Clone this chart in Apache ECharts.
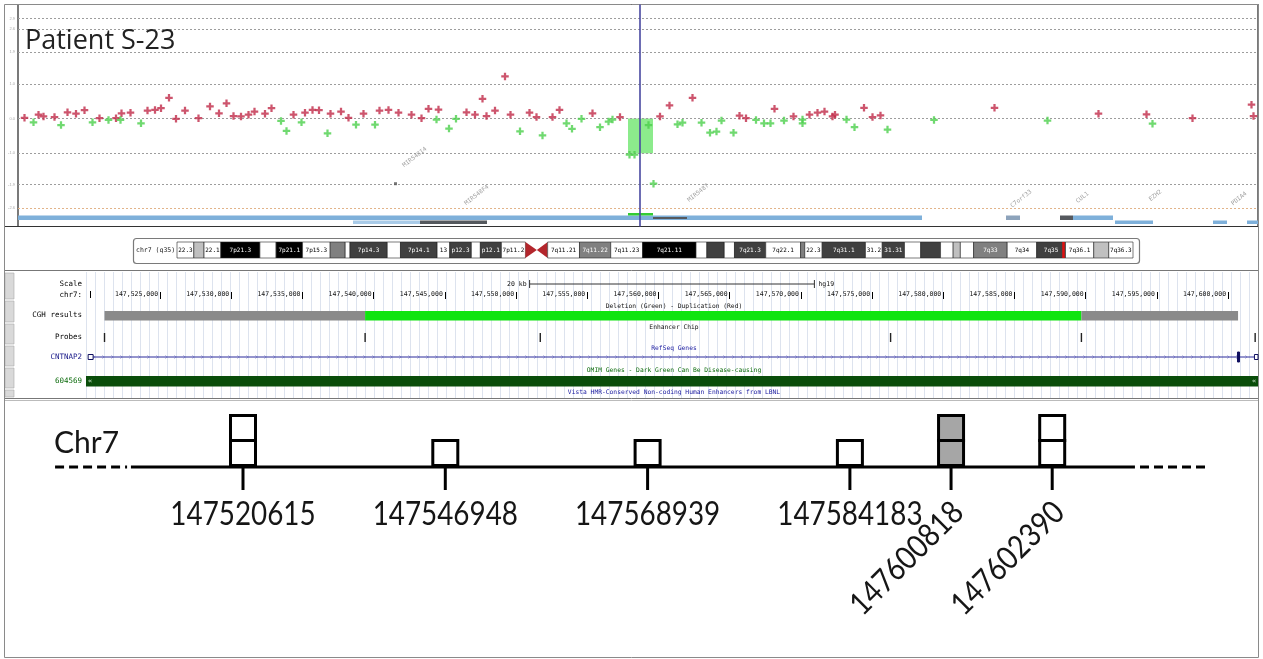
<!DOCTYPE html>
<html><head><meta charset="utf-8">
<script src="https://cdn.jsdelivr.net/npm/echarts@6/dist/echarts.min.js"></script>
<style>html,body{margin:0;padding:0;background:#fff}#c{width:1263px;height:659px}</style>
</head><body><div id="c"></div>
<script>
// ================= DATA =================
// Array-CGH probes on chr7 (position in kb, log2 ratio)
const gainProbes = [[146313,0.02],[146341,0.11],[146351,0.06],[146373,0.04],[146399,0.18],[146416,0.14],[146433,0.24],[146463,0.01],[146496,0.01],[146507,0.15],[146525,0.17],[146559,0.23],[146574,0.25],[146586,0.30],[146602,0.60],[146616,-0.01],[146634,0.23],[146661,0.01],[146684,0.35],[146702,0.15],[146717,0.44],[146731,0.07],[146746,0.06],[146761,0.11],[146773,0.20],[146794,0.14],[146807,0.30],[146851,0.11],[146874,0.17],[146889,0.25],[146902,0.24],[146925,0.14],[146946,0.20],[146961,0.02],[146991,0.14],[147023,0.23],[147041,0.25],[147061,0.17],[147087,0.11],[147107,0.01],[147121,0.28],[147141,0.26],[147197,0.18],[147214,0.11],[147229,0.57],[147237,0.07],[147254,0.23],[147274,1.22],[147285,0.11],[147323,0.17],[147337,0.04],[147369,0.04],[147383,0.25],[147449,0.15],[147504,0.04],[147584,0.06],[147603,0.38],[147649,0.60],[147743,0.08],[147756,0.01],[147813,0.28],[147851,0.06],[147883,0.11],[147899,0.17],[147913,0.20],[147929,0.06],[147934,0.11],[147992,0.31],[148009,0.04],[148025,0.09],[148253,0.31],[148461,0.14],[148557,0.12],[148649,0.01],[148767,0.40],[148771,0.07]];
const lossProbes = [[146331,-0.11],[146386,-0.19],[146449,-0.11],[146481,-0.04],[146505,-0.04],[146546,-0.14],[146826,-0.07],[146837,-0.36],[146867,-0.11],[146919,-0.43],[146976,-0.18],[147014,-0.18],[147137,-0.03],[147162,-0.29],[147176,-0.01],[147304,-0.37],[147349,-0.49],[147397,-0.14],[147408,-0.30],[147427,-0.01],[147464,-0.25],[147481,-0.09],[147489,-0.03],[147523,-1.05],[147533,-1.05],[147561,-0.19],[147571,-1.89],[147619,-0.17],[147629,-0.12],[147667,-0.12],[147684,-0.41],[147697,-0.38],[147707,-0.06],[147731,-0.41],[147776,-0.04],[147792,-0.14],[147805,-0.14],[147832,-0.06],[147869,-0.03],[147869,-0.14],[147957,-0.03],[147973,-0.25],[148039,-0.32],[148132,-0.04],[148359,-0.06],[148569,-0.15]];
const flaggedProbes = [[147055,-1.89]];
const deletionCall = [147520, 147570, -1.01];        // start kb, end kb, segment log2
const log2Levels = [2.9, 2.6, 1.92, 1, 0, -1, -1.92, -2.6];
const regionMarkerKb = 147544;
// genes under the CGH plot: [start kb, end kb, lane, kind]
const cghGenes = [[146300,148108,0,0],[146970,147104,1,3],[147104,147238,1,1],[147520,147570,2,2],[147570,147638,3,1],[148276,148304,0,4],[148384,148410,0,1],[148410,148490,0,0],[148494,148570,1,0],[148690,148718,1,0],[148758,148780,1,0]];
const cghGeneLabels = [[147120,-0.93,'MIR548I4'],[147244,-2.03,'MIR548F4'],[147684,-2.0,'MIR548T'],[148330,-2.17,'C7orf33'],[148444,-2.23,'CUL1'],[148590,-2.17,'EZH2'],[148760,-2.23,'PDIA4']];
// chr7 cytobands (hg19, Mb)
const chr7Bands = [['p22.3',0,2.8,'gneg'],['p22.2',2.8,4.5,'gpos25'],['p22.1',4.5,7.3,'gneg'],['p21.3',7.3,13.8,'gpos100'],['p21.2',13.8,16.5,'gneg'],['p21.1',16.5,20.9,'gpos100'],['p15.3',20.9,25.5,'gneg'],['p15.2',25.5,28.0,'gpos50'],['p15.1',28.0,28.8,'gneg'],['p14.3',28.8,35.0,'gpos75'],['p14.2',35.0,37.2,'gneg'],['p14.1',37.2,43.3,'gpos75'],['p13',43.3,45.4,'gneg'],['p12.3',45.4,49.0,'gpos75'],['p12.2',49.0,50.5,'gneg'],['p12.1',50.5,54.0,'gpos75'],['p11.2',54.0,58.0,'gneg'],['p11.1',58.0,59.9,'acen'],['q11.1',59.9,61.7,'acen'],['q11.21',61.7,67.0,'gneg'],['q11.22',67.0,72.2,'gpos50'],['q11.23',72.2,77.5,'gneg'],['q21.11',77.5,86.4,'gpos100'],['q21.12',86.4,88.2,'gneg'],['q21.13',88.2,91.1,'gpos75'],['q21.2',91.1,92.8,'gneg'],['q21.3',92.8,98.0,'gpos75'],['q22.1',98.0,103.8,'gneg'],['q22.2',103.8,104.5,'gpos50'],['q22.3',104.5,107.4,'gneg'],['q31.1',107.4,114.6,'gpos75'],['q31.2',114.6,117.4,'gneg'],['q31.31',117.4,121.1,'gpos75'],['q31.32',121.1,123.8,'gneg'],['q31.33',123.8,127.1,'gpos75'],['q32.1',127.1,129.2,'gneg'],['q32.2',129.2,130.4,'gpos25'],['q32.3',130.4,132.6,'gneg'],['q33',132.6,138.2,'gpos50'],['q34',138.2,143.1,'gneg'],['q35',143.1,147.9,'gpos75'],['q36.1',147.9,152.6,'gneg'],['q36.2',152.6,155.1,'gpos25'],['q36.3',155.1,159.138663,'gneg']];
const chr7LengthMb = 159.138663;
const ideogramFocusMb = 147.56;
// UCSC browser view (kb)
const ucscView = [147519.8, 147602.1];
const rulerTicksKb = [147525,147530,147535,147540,147545,147550,147555,147560,147565,147570,147575,147580,147585,147590,147595,147600];
const cghResults = [[147521.1,147539.4,0],[147539.4,147589.7,1],[147589.7,147600.7,0]]; // 0 normal, 1 deletion
const ucscProbesKb = [147521.1,147539.4,147551.7,147576.3,147589.7,147601.9];
const cntnap2Exons = [[147519.95,147520.3,0],[147600.66,147600.8,1],[147601.85,147602.1,0]];
const omimSpan = [147519.8, 147602.1];
const scaleBarKb = 20;
// schematic of tested probes
const probeLabels = ['147520615','147546948','147568939','147584183','147600818','147602390'];
const probeCopies = [2,1,1,1,2,2];
const probeAltered = [0,0,0,0,1,0];

// ================= LAYOUT / STYLE =================
const schematicSlots = [0,1,2,3,3.5,4];
const labelRotated = [0,0,0,0,1,1];
const chrLine = {solid:[-0.554,4.409], dashL:[-0.929,-0.573], dashR:[4.434,4.775]};
const MONO = "'DejaVu Sans Mono', monospace";
const HUMAN = "Lato, 'Open Sans', sans-serif";
const geneColors = ['#7eb0da','#55595e','#33cc33','#a9cbe8','#8da3bb'];
const geneLanes = [{top:11,h:4.5},{top:6,h:3.5},{top:13.5,h:2.5},{top:9.5,h:2}];
const stainFill = {gneg:'#ffffff',gpos25:'#c0c0c0',gpos50:'#808080',gpos75:'#404040',gpos100:'#000000'};
const stainText = {gneg:'#000',gpos25:'#000',gpos50:'#fff',gpos75:'#fff',gpos100:'#fff'};
const plusPath = 'path://M1.75,0H3.25V1.75H5V3.25H3.25V5H1.75V3.25H0V1.75H1.75Z';

const chart = echarts.init(document.getElementById('c'), null, {renderer:'canvas', width:1263, height:659});

function clipX(cs, a, b){ const x0=Math.max(a,cs.x), x1=Math.min(b,cs.x+cs.width); return [x0, Math.max(0,x1-x0)]; }

const series = [];
// top panel: gridlines, deletion segment, region marker
series.push({type:'scatter', xAxisIndex:0, yAxisIndex:0, data:[], silent:true,
  markLine:{silent:true, symbol:'none', label:{show:false}, animation:false,
    data: log2Levels.map(v=>({yAxis:v, lineStyle:{type:[2,2], color: v===-2.6?'#e2b48a':'#9d9d9d', width:1}}))
      .concat([{xAxis:regionMarkerKb, lineStyle:{type:'solid', color:'#4848a0', width:1.6}}])},
  markArea:{silent:true, itemStyle:{color:'rgba(120,232,120,0.85)'},
    data:[[{xAxis:deletionCall[0], yAxis:0},{xAxis:deletionCall[1], yAxis:deletionCall[2]}]]}
});
series.push({type:'scatter', xAxisIndex:0, yAxisIndex:0, data:gainProbes, symbol:plusPath, symbolSize:7.5, itemStyle:{color:'#c02a48'}, z:5});
series.push({type:'scatter', xAxisIndex:0, yAxisIndex:0, data:lossProbes, symbol:plusPath, symbolSize:7.5, itemStyle:{color:'#4ccf4c'}, z:5});
series.push({type:'scatter', xAxisIndex:0, yAxisIndex:0, data:flaggedProbes, symbol:'rect', symbolSize:3, itemStyle:{color:'#555'}, z:5});
series.push({type:'custom', xAxisIndex:0, yAxisIndex:0, data:cghGenes, encode:{x:[0,1]}, z:4,
  renderItem:(params, api)=>{
    const cs=params.coordSys;
    const a=api.coord([api.value(0),0])[0], b=api.coord([api.value(1),0])[0];
    const [x,w]=clipX(cs,a,b); const ln=geneLanes[api.value(2)];
    return {type:'rect', shape:{x:x, y:cs.y+cs.height-ln.top, width:w, height:ln.h}, style:{fill:geneColors[api.value(3)]}};
  }});
series.push({type:'scatter', xAxisIndex:0, yAxisIndex:0, symbolSize:0, z:4,
  data: cghGeneLabels.map(g=>({value:[g[0],g[1]], name:g[2]})),
  label:{show:true, formatter:'{b}', position:[0,0], align:'right', verticalAlign:'bottom', rotate:38, fontSize:6, fontFamily:MONO, color:'#8a8a8a'}});

// ideogram
series.push({type:'custom', xAxisIndex:1, yAxisIndex:1, data:chr7Bands.map(b=>[b[1],b[2]]), encode:{x:[0,1]},
  renderItem:(params, api)=>{
    const b=chr7Bands[params.dataIndex]; const cs=params.coordSys;
    const x0=api.coord([api.value(0),0])[0], x1=api.coord([api.value(1),0])[0];
    const y0=cs.y, h=cs.height;
    if(b[3]==='acen'){
      const pts = b[0][0]==='p' ? [[x0,y0],[x1,y0+h/2],[x0,y0+h]] : [[x1,y0],[x0,y0+h/2],[x1,y0+h]];
      return {type:'polygon', shape:{points:pts}, style:{fill:'#b3262c'}};
    }
    const w=x1-x0, cw=3.6;
    const cands=['7'+b[0], b[0], b[0].slice(1)];
    let t=''; for(const c of cands){ if(c.length*cw+2<=w){t=c;break;} }
    const kids=[{type:'rect', shape:{x:x0,y:y0,width:w,height:h}, style:{fill:stainFill[b[3]], stroke:'#222', lineWidth:0.6}}];
    if(t) kids.push({type:'text', style:{text:t, x:(x0+x1)/2, y:y0+h/2, align:'center', verticalAlign:'middle', fill:stainText[b[3]], font:'6px '+MONO}});
    return {type:'group', children:kids};
  }});
series.push({type:'scatter', xAxisIndex:1, yAxisIndex:1, data:[], silent:true,
  markLine:{silent:true, symbol:'none', label:{show:false}, data:[{xAxis:ideogramFocusMb}], lineStyle:{color:'#e01010', width:2.5, type:'solid'}}});

// UCSC tracks
series.push({type:'custom', xAxisIndex:2, yAxisIndex:2, data:cghResults, encode:{x:[0,1]}, z:3,
  renderItem:(params, api)=>{
    const cs=params.coordSys;
    const a=api.coord([api.value(0),0])[0], b=api.coord([api.value(1),0])[0];
    return {type:'rect', shape:{x:a, y:cs.y+39, width:b-a, height:9.5}, style:{fill: api.value(2)?'#0fe40f':'#8a8a8a'}};
  }});
series.push({type:'custom', xAxisIndex:2, yAxisIndex:2, data:ucscProbesKb.map(v=>[v]), encode:{x:0}, z:3,
  renderItem:(params, api)=>{
    const cs=params.coordSys; const x=api.coord([api.value(0),0])[0];
    return {type:'line', shape:{x1:x,y1:cs.y+61,x2:x,y2:cs.y+70}, style:{stroke:'#222', lineWidth:1.4}};
  }});
series.push({type:'custom', xAxisIndex:2, yAxisIndex:2, data:[ucscView], encode:{x:[0,1]}, z:3,
  renderItem:(params, api)=>{
    const cs=params.coordSys; const y=cs.y+85;
    const a=api.coord([api.value(0),0])[0]+3, b=api.coord([api.value(1),0])[0]-2;
    const kids=[{type:'line', shape:{x1:a,y1:y,x2:b,y2:y}, style:{stroke:'#2a2a9a', lineWidth:1}}];
    for(let x=a+6;x<b-4;x+=9) kids.push({type:'polyline', shape:{points:[[x-1.5,y-1.5],[x,y],[x-1.5,y+1.5]]}, style:{stroke:'#6a6ac0', lineWidth:0.7, fill:null}});
    return {type:'group', children:kids};
  }});
series.push({type:'custom', xAxisIndex:2, yAxisIndex:2, data:cntnap2Exons, encode:{x:[0,1]}, z:4,
  renderItem:(params, api)=>{
    const cs=params.coordSys; const y=cs.y+85;
    const a=api.coord([api.value(0),0])[0], b=api.coord([api.value(1),0])[0];
    const tall=api.value(2);
    const h= tall?10:5;
    return {type:'rect', shape:{x:a, y:y-h/2, width:Math.max(1.5,b-a), height:h}, style:{fill: tall?'#101060':'#fff', stroke:'#101060', lineWidth:1}};
  }});
series.push({type:'custom', xAxisIndex:2, yAxisIndex:2, data:[omimSpan], encode:{x:[0,1]}, z:3,
  renderItem:(params, api)=>{
    const cs=params.coordSys;
    const a=api.coord([api.value(0),0])[0], b=api.coord([api.value(1),0])[0];
    return {type:'group', children:[
      {type:'rect', shape:{x:a, y:cs.y+104, width:b-a, height:10.5}, style:{fill:'#0a4d0a'}},
      {type:'text', style:{text:'«', x:a+2, y:cs.y+109.5, verticalAlign:'middle', fill:'#cfe8cf', font:'7px '+MONO}},
      {type:'text', style:{text:'«', x:b-6, y:cs.y+109.5, verticalAlign:'middle', fill:'#cfe8cf', font:'7px '+MONO}}]};
  }});
series.push({type:'custom', xAxisIndex:2, yAxisIndex:2, data:[[(ucscView[0]+ucscView[1])/2 - scaleBarKb/2, (ucscView[0]+ucscView[1])/2 + scaleBarKb/2]], encode:{x:[0,1]}, z:3,
  renderItem:(params, api)=>{
    const cs=params.coordSys; const y=cs.y+12;
    const a=api.coord([api.value(0),0])[0], b=api.coord([api.value(1),0])[0];
    return {type:'group', children:[
      {type:'line', shape:{x1:a,y1:y,x2:b,y2:y}, style:{stroke:'#333', lineWidth:1}},
      {type:'line', shape:{x1:a,y1:y-4,x2:a,y2:y+4}, style:{stroke:'#333', lineWidth:1}},
      {type:'line', shape:{x1:b,y1:y-4,x2:b,y2:y+4}, style:{stroke:'#333', lineWidth:1}},
      {type:'text', style:{text:scaleBarKb+' kb', x:a-3, y:y, align:'right', verticalAlign:'middle', fill:'#111', font:'6.5px '+MONO}},
      {type:'text', style:{text:'hg19', x:b+4, y:y, align:'left', verticalAlign:'middle', fill:'#111', font:'6.5px '+MONO}}]};
  }});

// schematic
const schemData = probeLabels.map((l,i)=>[schematicSlots[i], probeCopies[i], probeAltered[i], i]);
series.push({type:'line', xAxisIndex:5, yAxisIndex:4, data:[[chrLine.solid[0],0],[chrLine.solid[1],0]], symbol:'none', lineStyle:{color:'#000', width:3}, z:2});
series.push({type:'line', xAxisIndex:5, yAxisIndex:4, data:[[chrLine.dashL[0],0],[chrLine.dashL[1],0]], symbol:'none', lineStyle:{color:'#000', width:3, type:[9,5]}, z:2});
series.push({type:'line', xAxisIndex:5, yAxisIndex:4, data:[[chrLine.dashR[0],0],[chrLine.dashR[1],0]], symbol:'none', lineStyle:{color:'#000', width:3, type:[9,5]}, z:2});
series.push({type:'custom', xAxisIndex:5, yAxisIndex:4, data:schemData, encode:{x:0,y:-1}, z:3,
  renderItem:(params, api)=>{
    const p=api.coord([api.value(0),0]); const n=api.value(1), alt=api.value(2), idx=api.value(3); const s=25;
    const kids=[{type:'line', shape:{x1:p[0],y1:p[1],x2:p[0],y2:p[1]+23}, style:{stroke:'#000', lineWidth:3}}];
    for(let k=0;k<n;k++) kids.push({type:'rect', shape:{x:p[0]-s/2, y:p[1]-1.5-s*(k+1), width:s, height:s}, style:{fill: alt?'#a6a6a6':'#fff', stroke:'#000', lineWidth:3}});
    const txtStyle={text:probeLabels[idx], fill:'#161616', fontSize:32, fontFamily:HUMAN};
    if(labelRotated[idx]){
      kids.push({type:'text', x:p[0]+7, y:p[1]+40, rotation:Math.PI/4, scaleX:0.87, style:Object.assign({align:'right', verticalAlign:'middle'}, txtStyle)});
    } else {
      kids.push({type:'text', x:p[0], y:p[1]+48, scaleX:0.87, style:Object.assign({align:'center', verticalAlign:'middle'}, txtStyle)});
    }
    return {type:'group', children:kids};
  }});

const ucscLabels = [['Scale',284,'#000'],['chr7:',295,'#000'],['CGH results',315,'#000'],['Probes',337,'#000'],['CNTNAP2',357,'#1a1a8a'],['604569',381,'#0a6a0a']];
const ucscTitles = [['Deletion (Green) - Duplication (Red)',306,'#111'],['Enhancer Chip',327,'#111'],['RefSeq Genes',348,'#1a1aa0'],['OMIM Genes - Dark Green Can Be Disease-causing',370,'#0a6a0a'],['Vista HMR-Conserved Non-coding Human Enhancers from LBNL',392,'#1a1aa0']];
const gutter = [[273,299],[301,322],[324,344],[346,366],[368,388],[390,397]];

const graphic = [
  {type:'rect', shape:{x:4.5,y:4.5,width:1254,height:653}, style:{fill:null, stroke:'#8a8a8a', lineWidth:1}, z:1},
  {type:'line', shape:{x1:4.5,y1:226.5,x2:1258.5,y2:226.5}, style:{stroke:'#333', lineWidth:1.2}},
  {type:'line', shape:{x1:4.5,y1:270.5,x2:1258.5,y2:270.5}, style:{stroke:'#777', lineWidth:1}},
  {type:'line', shape:{x1:4.5,y1:398.5,x2:1258.5,y2:398.5}, style:{stroke:'#777', lineWidth:1}},
  {type:'line', shape:{x1:4.5,y1:400.5,x2:1258.5,y2:400.5}, style:{stroke:'#bbb', lineWidth:1}},
  {type:'rect', shape:{x:133.5,y:238.5,width:1006,height:25,r:3}, style:{fill:null, stroke:'#7a7a7a', lineWidth:1.2}},
  {type:'text', style:{text:'chr7 (q35)', x:136, y:250.5, verticalAlign:'middle', font:'6.5px '+MONO, fill:'#222'}},
  {type:'text', style:{text:'Patient S-23', x:25, y:41, verticalAlign:'middle', font:"27px 'Open Sans', sans-serif", fill:'#222'}, z:10},
  {type:'text', x:54, y:443, style:{text:'Chr7', verticalAlign:'middle', font:'30px '+HUMAN, fill:'#161616'}},
  {type:'line', shape:{x1:90.5,y1:291,x2:90.5,y2:298}, style:{stroke:'#000', lineWidth:1}}
];
gutter.forEach(g=>graphic.push({type:'rect', shape:{x:5,y:g[0],width:9,height:g[1]-g[0]}, style:{fill:'#d9d9d9', stroke:'#a8a8a8', lineWidth:0.6}}));
ucscLabels.forEach(l=>graphic.push({type:'text', style:{text:l[0], x:82, y:l[1], align:'right', verticalAlign:'middle', font:'7.5px '+MONO, fill:l[2]}, z:5}));
ucscTitles.forEach(t=>graphic.push({type:'text', style:{text:t[0], x:674, y:t[1], align:'center', verticalAlign:'middle', font:'6.3px '+MONO, fill:t[2]}, z:5}));

chart.setOption({
  animation:false, backgroundColor:'#fff',
  grid:[
    {left:18, top:4.5, width:1240, height:222, show:true, borderColor:'#222', borderWidth:1.2, backgroundColor:'transparent'},
    {left:177, top:242, width:956, height:16},
    {left:86, top:272, width:1172, height:126},
    {left:86, top:298, width:1172, height:1},
    {left:40.7, top:400, width:1213.8, height:259}
  ],
  xAxis:[
    {gridIndex:0, type:'value', min:146300, max:148780, show:false},
    {gridIndex:1, type:'value', min:0, max:chr7LengthMb, show:false},
    {gridIndex:2, type:'value', min:ucscView[0], max:ucscView[1], show:false},
    {gridIndex:2, type:'value', min:0, max:130, interval:1, axisLine:{show:false}, axisTick:{show:false}, axisLabel:{show:false}, splitLine:{show:true, lineStyle:{color:'#dde3ee', width:1}}},
    {gridIndex:3, type:'value', position:'top', min:ucscView[0], max:ucscView[1], axisLine:{show:false}, splitLine:{show:false},
      axisTick:{show:true, customValues:rulerTicksKb, length:7, lineStyle:{color:'#000', width:1}},
      axisLabel:{customValues:rulerTicksKb, margin:0, align:'right', verticalAlign:'bottom', padding:[0,2,0,0], fontSize:6.5, fontFamily:MONO, color:'#111',
        formatter:v=>Math.round(v*1000).toLocaleString('en-US')}},
    {gridIndex:4, type:'value', min:-1, max:5, show:false}
  ],
  yAxis:[
    {gridIndex:0, type:'value', min:-3.13, max:3.304, axisLine:{show:false}, axisTick:{show:false}, splitLine:{show:false},
      axisLabel:{customValues:log2Levels, fontSize:4, color:'#aaa', margin:3, formatter:v=>v.toFixed(1)}},
    {gridIndex:1, type:'value', min:0, max:1, show:false},
    {gridIndex:2, type:'value', min:0, max:1, show:false},
    {gridIndex:3, type:'value', min:0, max:1, show:false},
    {gridIndex:4, type:'value', min:-192, max:67, show:false}
  ],
  series:series,
  graphic:graphic
});
</script></body></html>
